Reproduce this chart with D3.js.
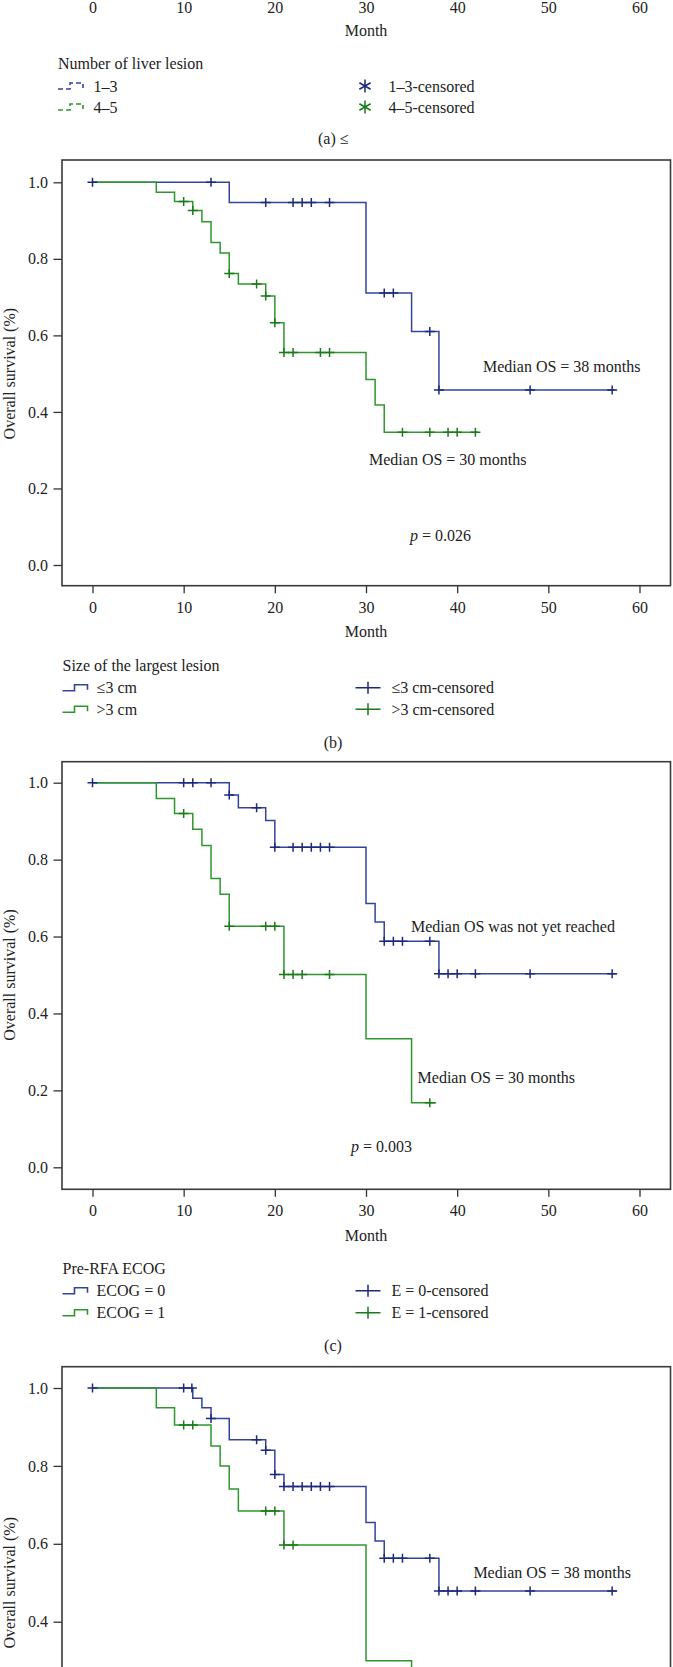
<!DOCTYPE html>
<html>
<head>
<meta charset="utf-8">
<script src="https://cdn.jsdelivr.net/npm/d3@7"></script>
<style>
html,body{margin:0;padding:0;background:#fff;}
svg{display:block;}
text{font-family:"Liberation Serif","Times New Roman",serif;fill:#222;}
</style>
</head>
<body>
<svg id="chart" width="673" height="1667"></svg>
<script>
// ---------- data ----------
const xTicks = [0, 10, 20, 30, 40, 50, 60];
const yTicks = [0, 0.2, 0.4, 0.6, 0.8, 1.0];

// (b) Size of the largest lesion
const bSmallDropT = [15, 30, 35, 38];
const bSmallDropS = [0.947, 0.711, 0.61, 0.457];
const bSmallCens  = [0, 13, 19, 22, 23, 24, 26, 32, 33, 37, 38, 48, 57];
const bSmallEnd   = 57.3;
const bLargeDropT = [7, 9, 11, 12, 13, 14, 15, 16, 19, 20, 21, 30, 31, 32];
const bLargeDropS = [0.974, 0.950, 0.926, 0.897, 0.843, 0.815, 0.762, 0.734, 0.703, 0.633, 0.555, 0.485, 0.418, 0.347];
const bLargeCens  = [10, 11, 15, 18, 19, 20, 21, 22, 25, 26, 34, 37, 39, 40, 42];
const bLargeEnd   = 42.3;

// (c) Pre-RFA ECOG
const cE0DropT = [15, 16, 19, 20, 30, 31, 32, 38];
const cE0DropS = [0.968, 0.935, 0.902, 0.832, 0.686, 0.638, 0.588, 0.503];
const cE0Cens  = [0, 10, 11, 13, 15, 18, 20, 22, 23, 24, 25, 26, 32, 33, 34, 37, 38, 39, 40, 42, 48, 57];
const cE0End   = 57.5;
const cE1DropT = [7, 9, 11, 12, 13, 14, 15, 21, 30, 35];
const cE1DropS = [0.959, 0.920, 0.879, 0.837, 0.751, 0.710, 0.627, 0.501, 0.334, 0.168];
const cE1Cens  = [10, 15, 19, 20, 21, 22, 23, 26, 37];
const cE1End   = 37.7;

// (d)
const dBlueDropT = [11, 12, 13, 15, 19, 20, 21, 30, 31, 32, 38];
const dBlueDropS = [0.974, 0.949, 0.922, 0.867, 0.840, 0.778, 0.747, 0.655, 0.607, 0.563, 0.479];
const dBlueCens  = [0, 10, 10.9, 13, 18, 19, 20, 21, 22, 23, 24, 25, 26, 32, 33, 34, 37, 38, 39, 40, 42, 48, 57];
const dBlueEnd   = 57.5;
const dGreenDropT = [7, 9, 13, 14, 15, 16, 21, 30, 35];
const dGreenDropS = [0.949, 0.905, 0.851, 0.800, 0.741, 0.684, 0.597, 0.30, 0.15];
const dGreenCens  = [10, 11, 19, 20, 21, 22];
const dGreenEnd   = 36;

// ---------- styling ----------
const H = 1667;
const BLUE_LINE = "#34449a", BLUE_MARK = "#1d2a78";
const GREEN_LINE = "#2f962f", GREEN_MARK = "#1b7a1b";
const FS = 16;
const svg = d3.select("#chart");
svg.append("rect").attr("width", 673).attr("height", H).attr("fill", "#fff");

const boxLeft = 62, boxRight = 670.5;
const xRange = [92.5, 639.5];

function survAt(t, dropT, dropS) {
  let s = 1;
  for (let i = 0; i < dropT.length; i++) if (dropT[i] <= t) s = dropS[i];
  return s;
}

function drawAxesX(g, x, bottom) {
  const ax = g.append("g").attr("transform", `translate(0,${bottom})`)
    .call(d3.axisBottom(x).tickValues(xTicks).tickSize(7.5).tickPadding(8).tickFormat(d3.format("d")));
  ax.select(".domain").remove();
  ax.selectAll("line").attr("stroke", "#333").attr("stroke-width", 1.3);
  ax.selectAll("text").attr("font-size", FS).attr("font-family", "Liberation Serif").attr("fill", "#222");
}

function drawPanel(p) {
  const g = svg.append("g");
  const x = d3.scaleLinear().domain([0, 60]).range(xRange);
  const y = d3.scaleLinear().domain([0, 1]).range([p.y0, p.y1]);

  // frame
  g.append("rect").attr("x", boxLeft).attr("y", p.top).attr("width", boxRight - boxLeft)
    .attr("height", p.bottom - p.top).attr("fill", "none").attr("stroke", "#3a3a3a").attr("stroke-width", 1.6);

  // y axis (only ticks that fall on the page)
  const visY = yTicks.filter(v => y(v) < H - 8);
  const ay = g.append("g").attr("transform", `translate(${boxLeft},0)`)
    .call(d3.axisLeft(y).tickValues(visY).tickSize(8.5).tickPadding(5.5).tickFormat(d3.format(".1f")));
  ay.select(".domain").remove();
  ay.selectAll("line").attr("stroke", "#333").attr("stroke-width", 1.3);
  ay.selectAll("text").attr("font-size", FS).attr("font-family", "Liberation Serif").attr("fill", "#222");

  if (p.bottom < H) {
    drawAxesX(g, x, p.bottom);
    g.append("text").attr("x", x(30)).attr("y", p.bottom + 46).attr("dy", "0.35em")
      .attr("text-anchor", "middle").attr("font-size", FS).text("Month");
  }

  // y label
  g.append("text").attr("transform", `translate(15,${(p.y0 + p.y1) / 2}) rotate(-90)`)
    .attr("text-anchor", "middle").attr("font-size", FS).text("Overall survival (%)");

  const line = d3.line().x(d => x(d[0])).y(d => y(d[1])).curve(d3.curveStepAfter);
  p.series.forEach(s => {
    const pts = [[0, 1]];
    s.dropT.forEach((t, i) => pts.push([t, s.dropS[i]]));
    pts.push([s.end, s.dropS[s.dropS.length - 1]]);
    g.append("path").attr("d", line(pts)).attr("fill", "none")
      .attr("stroke", s.line).attr("stroke-width", 1.5);
  });
  p.series.forEach(s => {
    s.cens.forEach(t => {
      const cx = x(t), cy = y(survAt(t, s.dropT, s.dropS));
      g.append("path").attr("d", `M${cx - 5},${cy}H${cx + 5}M${cx},${cy - 4.5}V${cy + 4.5}`)
        .attr("stroke", s.mark).attr("stroke-width", 1.5).attr("fill", "none");
    });
  });
  p.notes.forEach(n => {
    const t = g.append("text").attr("x", n.x).attr("y", n.y).attr("dy", "0.35em").attr("font-size", FS);
    if (n.p) {
      t.append("tspan").attr("font-style", "italic").text("p");
      t.append("tspan").text(n.text);
    } else t.text(n.text);
  });
}

function stepIcon(g, x0, yc, color, dashed) {
  const d = `M${x0},${yc + 3}H${x0 + 12}V${yc - 3}H${x0 + 25}V${yc + 2}`;
  const pth = g.append("path").attr("d", d).attr("fill", "none").attr("stroke", color).attr("stroke-width", 1.6);
  if (dashed) pth.attr("stroke-dasharray", "5,3");
}
function plusIcon(g, cx, cy, color) {
  g.append("path").attr("d", `M${cx - 12.5},${cy}H${cx + 12.5}M${cx},${cy - 6}V${cy + 6}`)
    .attr("stroke", color).attr("stroke-width", 1.5).attr("fill", "none");
}
function starIcon(g, cx, cy, color) {
  const r = 6.5;
  let d = "";
  [90, 30, 150].forEach(a => {
    const rad = a * Math.PI / 180;
    const dx = r * Math.cos(rad), dy = r * Math.sin(rad);
    d += `M${cx - dx},${cy - dy}L${cx + dx},${cy + dy}`;
  });
  g.append("path").attr("d", d).attr("stroke", color).attr("stroke-width", 1.5).attr("fill", "none");
}

function drawLegend(l) {
  const g = svg.append("g");
  g.append("text").attr("x", l.titleX).attr("y", l.titleY).attr("dy", "0.35em").attr("font-size", FS).text(l.title);
  l.rows.forEach((r, i) => {
    const yc = l.rowY[i];
    stepIcon(g, l.iconX, yc, r.color, l.dashed);
    g.append("text").attr("x", l.textX).attr("y", yc).attr("dy", "0.35em").attr("font-size", FS).text(r.label);
    if (l.star) starIcon(g, l.markX, yc, r.mark); else plusIcon(g, l.markX, yc, r.mark);
    g.append("text").attr("x", l.mtextX).attr("y", yc).attr("dy", "0.35em").attr("font-size", FS).text(r.mlabel);
  });
  g.append("text").attr("x", l.capX).attr("y", l.capY).attr("dy", "0.35em")
    .attr("text-anchor", l.capAnchor).attr("font-size", FS).text(l.caption);
}

// ---------- panel (a): only bottom visible ----------
{
  const x = d3.scaleLinear().domain([0, 60]).range(xRange);
  const g = svg.append("g");
  drawAxesX(g, x, -14.3);
  g.append("text").attr("x", x(30)).attr("y", 30).attr("dy", "0.35em")
    .attr("text-anchor", "middle").attr("font-size", FS).text("Month");
}
drawLegend({
  title: "Number of liver lesion", titleX: 58, titleY: 63, dashed: true, star: true,
  iconX: 58, textX: 93.6, markX: 365, mtextX: 388.4, rowY: [86, 107],
  rows: [
    {color: BLUE_LINE, mark: BLUE_MARK, label: "1–3", mlabel: "1–3-censored"},
    {color: GREEN_LINE, mark: GREEN_MARK, label: "4–5", mlabel: "4–5-censored"}
  ],
  caption: "(a) ≤", capX: 318, capY: 138, capAnchor: "start"
});

// ---------- panel (b) ----------
drawPanel({
  top: 160, bottom: 585.7, y1: 182.3, y0: 565,
  series: [
    {dropT: bSmallDropT, dropS: bSmallDropS, cens: bSmallCens, end: bSmallEnd, line: BLUE_LINE, mark: BLUE_MARK},
    {dropT: bLargeDropT, dropS: bLargeDropS, cens: bLargeCens, end: bLargeEnd, line: GREEN_LINE, mark: GREEN_MARK}
  ],
  notes: [
    {x: 483, y: 366.7, text: "Median OS = 38 months"},
    {x: 369, y: 459.3, text: "Median OS = 30 months"},
    {x: 410, y: 535.7, text: " = 0.026", p: true}
  ]
});
drawLegend({
  title: "Size of the largest lesion", titleX: 62.5, titleY: 665, dashed: false, star: false,
  iconX: 62.5, textX: 96.6, markX: 368, mtextX: 391.4, rowY: [687.7, 709.3],
  rows: [
    {color: BLUE_LINE, mark: BLUE_MARK, label: "≤3 cm", mlabel: "≤3 cm-censored"},
    {color: GREEN_LINE, mark: GREEN_MARK, label: ">3 cm", mlabel: ">3 cm-censored"}
  ],
  caption: "(b)", capX: 333, capY: 742, capAnchor: "middle"
});

// ---------- panel (c) ----------
drawPanel({
  top: 761.7, bottom: 1189.3, y1: 782.7, y0: 1167.3,
  series: [
    {dropT: cE0DropT, dropS: cE0DropS, cens: cE0Cens, end: cE0End, line: BLUE_LINE, mark: BLUE_MARK},
    {dropT: cE1DropT, dropS: cE1DropS, cens: cE1Cens, end: cE1End, line: GREEN_LINE, mark: GREEN_MARK}
  ],
  notes: [
    {x: 411, y: 926, text: "Median OS was not yet reached"},
    {x: 417.6, y: 1077.3, text: "Median OS = 30 months"},
    {x: 351, y: 1146.7, text: " = 0.003", p: true}
  ]
});
drawLegend({
  title: "Pre-RFA ECOG", titleX: 62.5, titleY: 1268.3, dashed: false, star: false,
  iconX: 62.5, textX: 96.6, markX: 368, mtextX: 391.4, rowY: [1290.7, 1312.7],
  rows: [
    {color: BLUE_LINE, mark: BLUE_MARK, label: "ECOG = 0", mlabel: "E = 0-censored"},
    {color: GREEN_LINE, mark: GREEN_MARK, label: "ECOG = 1", mlabel: "E = 1-censored"}
  ],
  caption: "(c)", capX: 333, capY: 1345, capAnchor: "middle"
});

// ---------- panel (d) ----------
drawPanel({
  top: 1366.7, bottom: 1792, y1: 1388, y0: 1777.5,
  series: [
    {dropT: dBlueDropT, dropS: dBlueDropS, cens: dBlueCens, end: dBlueEnd, line: BLUE_LINE, mark: BLUE_MARK},
    {dropT: dGreenDropT, dropS: dGreenDropS, cens: dGreenCens, end: dGreenEnd, line: GREEN_LINE, mark: GREEN_MARK}
  ],
  notes: [
    {x: 473.4, y: 1572.3, text: "Median OS = 38 months"}
  ]
});
</script>
</body>
</html>
